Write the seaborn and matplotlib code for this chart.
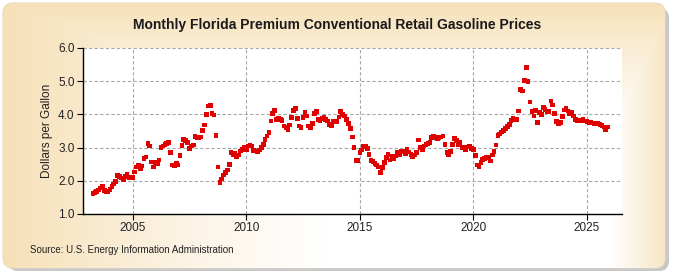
import matplotlib.pyplot as plt
import matplotlib.dates as mdates
import numpy as np
import pandas as pd
import seaborn as sns
from matplotlib.patches import FancyBboxPatch

# Monthly prices, dollars per gallon (Apr 2003 - Jan 2026)
p2003 = [1.62, 1.64, 1.68, 1.72, 1.78, 1.82, 1.71, 1.67, 1.68]
p2004 = [1.74, 1.83, 1.90, 1.98, 2.16, 2.13, 2.08, 2.03, 2.13, 2.20, 2.10, 2.08]
p2005 = [2.10, 2.27, 2.41, 2.47, 2.36, 2.45, 2.68, 2.72, 3.13, 3.05, 2.57, 2.42]
p2006 = [2.55, 2.53, 2.63, 3.00, 3.05, 3.10, 3.12, 3.15, 2.85, 2.47, 2.45, 2.52]
p2007 = [2.48, 2.77, 3.07, 3.25, 3.22, 3.15, 2.98, 3.05, 3.08, 3.33, 3.30, 3.30]
p2008 = [3.32, 3.52, 3.68, 4.00, 4.25, 4.27, 4.02, 3.98, 3.36, 2.42, 1.95, 2.05]
p2009 = [2.18, 2.25, 2.33, 2.50, 2.85, 2.78, 2.82, 2.72, 2.78, 2.90, 2.95, 3.00]
p2010 = [2.95, 3.05, 3.08, 3.05, 2.92, 2.90, 2.88, 2.93, 3.00, 3.10, 3.25, 3.35]
p2011 = [3.45, 3.80, 4.02, 4.12, 3.85, 3.88, 3.85, 3.82, 3.65, 3.60, 3.55, 3.68]
p2012 = [3.90, 4.12, 4.18, 3.88, 3.65, 3.60, 3.90, 4.05, 3.95, 3.65, 3.60, 3.72]
p2013 = [4.02, 4.08, 3.85, 3.82, 3.88, 3.90, 3.85, 3.80, 3.70, 3.65, 3.78, 3.80]
p2014 = [3.78, 3.92, 4.08, 4.00, 3.95, 3.85, 3.72, 3.58, 3.32, 3.00, 2.62, 2.62]
p2015 = [2.86, 2.93, 3.05, 3.03, 2.98, 2.80, 2.62, 2.58, 2.52, 2.48, 2.42, 2.25]
p2016 = [2.40, 2.55, 2.70, 2.80, 2.63, 2.73, 2.67, 2.75, 2.85, 2.78, 2.88, 2.90]
p2017 = [2.82, 2.95, 2.87, 2.80, 2.73, 2.78, 2.85, 3.23, 3.00, 2.95, 3.05, 3.10]
p2018 = [3.13, 3.15, 3.30, 3.35, 3.30, 3.28, 3.30, 3.32, 3.35, 3.10, 2.85, 2.78]
p2019 = [2.88, 3.10, 3.28, 3.22, 3.10, 3.15, 3.00, 3.00, 2.95, 3.02, 3.05, 2.98]
p2020 = [2.95, 2.76, 2.47, 2.42, 2.56, 2.65, 2.68, 2.72, 2.70, 2.60, 2.78, 2.88]
p2021 = [3.08, 3.37, 3.41, 3.47, 3.52, 3.58, 3.63, 3.70, 3.82, 3.87, 3.83, 3.85]
p2022 = [4.10, 4.75, 4.70, 5.02, 5.42, 5.00, 4.37, 4.08, 3.95, 4.12, 3.75, 4.05]
p2023 = [4.00, 4.20, 4.15, 4.08, 4.08, 4.40, 4.28, 4.03, 3.78, 3.73, 3.75, 3.93]
p2024 = [4.13, 4.18, 4.10, 4.03, 4.05, 3.95, 3.85, 3.80, 3.83, 3.80, 3.85, 3.80]
p2025 = [3.78, 3.76, 3.76, 3.74, 3.73, 3.74, 3.72, 3.69, 3.66, 3.62, 3.55, 3.62]

prices = (p2003 + p2004 + p2005 + p2006 + p2007 + p2008 + p2009 + p2010 + p2011 + p2012
          + p2013 + p2014 + p2015 + p2016 + p2017 + p2018 + p2019 + p2020 + p2021 + p2022
          + p2023 + p2024 + p2025)
df = pd.DataFrame({
    'date': pd.date_range('2003-04-01', periods=len(prices), freq='MS'),
    'price': prices,
})

title = 'Monthly Florida Premium Conventional Retail Gasoline Prices'
ylabel = 'Dollars per Gallon'
source = 'Source: U.S. Energy Information Administration'

sns.set_style('white')
plt.rcParams['font.family'] = ['Liberation Sans', 'DejaVu Sans']

W, H = 675, 275
fig = plt.figure(figsize=(W / 100, H / 100), dpi=100, facecolor='white')

# Background panel with shadow and beige gradient
bg = fig.add_axes([0, 0, 1, 1])
bg.set_xlim(0, W)
bg.set_ylim(H, 0)
bg.axis('off')
shadow = FancyBboxPatch((8, 8), W - 14, H - 12, boxstyle='round,pad=0,rounding_size=10',
                        fc='#c8c8c8', ec='none')
bg.add_patch(shadow)
panel = FancyBboxPatch((3, 3), W - 13, H - 10, boxstyle='round,pad=0,rounding_size=10',
                       fc='none', ec='#e0d6c4', lw=0.8)
bg.add_patch(panel)
yy, xx = np.mgrid[0:H, 0:W]
fx = np.clip(1 - xx / 330, 0, 1) ** 1.2 + np.clip((xx - 610) / 55, 0, 1) * 0.8
fy = np.clip(1 - yy / 160, 0, 1) ** 1.5
f = np.clip(np.maximum(fx, fy) * 0.95, 0, 1)
beige = np.array([0.965, 0.87, 0.70])
img = 1 - f[..., None] * (1 - beige)
im = bg.imshow(img, extent=(0, W, H, 0), zorder=1)
im.set_clip_path(panel)

ax = fig.add_axes([83 / W, 1 - 214 / H, (622 - 83) / W, (214 - 48) / H])
ax.set_facecolor('white')
sns.scatterplot(data=df, x='date', y='price', ax=ax, marker='s', s=11,
                color='#e00000', edgecolor='none', zorder=3)

ax.set_ylim(1.0, 6.0)
ax.set_yticks(np.arange(1.0, 6.01, 1.0))
ax.set_yticklabels([f'{v:.1f}' for v in np.arange(1.0, 6.01, 1.0)])
ax.set_xlim(pd.Timestamp('2002-10-23'), pd.Timestamp('2026-07-20'))
ax.xaxis.set_major_locator(mdates.YearLocator(5))
ax.xaxis.set_major_formatter(mdates.DateFormatter('%Y'))
ax.grid(True, color='#a8a8a8', linestyle=(0, (3, 2)), linewidth=0.8)
for s in ['top', 'right']:
    ax.spines[s].set_visible(False)
for s in ['left', 'bottom']:
    ax.spines[s].set_color('black')
    ax.spines[s].set_linewidth(1.0)
ax.tick_params(axis='both', direction='out', length=4, width=0.8, color='black',
               labelsize=8.5, labelcolor='#222222', pad=2, left=True, bottom=True)
ax.set_xlabel('')
ax.set_ylabel(ylabel, fontsize=8.5, color='#222222', labelpad=4)

fig.text(0.5, 1 - 25 / H, title, ha='center', va='center', fontsize=10,
         fontweight='bold', color='#1a1a1a')
fig.text(30 / W, 1 - 250 / H, source, ha='left', va='center', fontsize=7, color='#222222')

fig.savefig('out.png', dpi=100)
